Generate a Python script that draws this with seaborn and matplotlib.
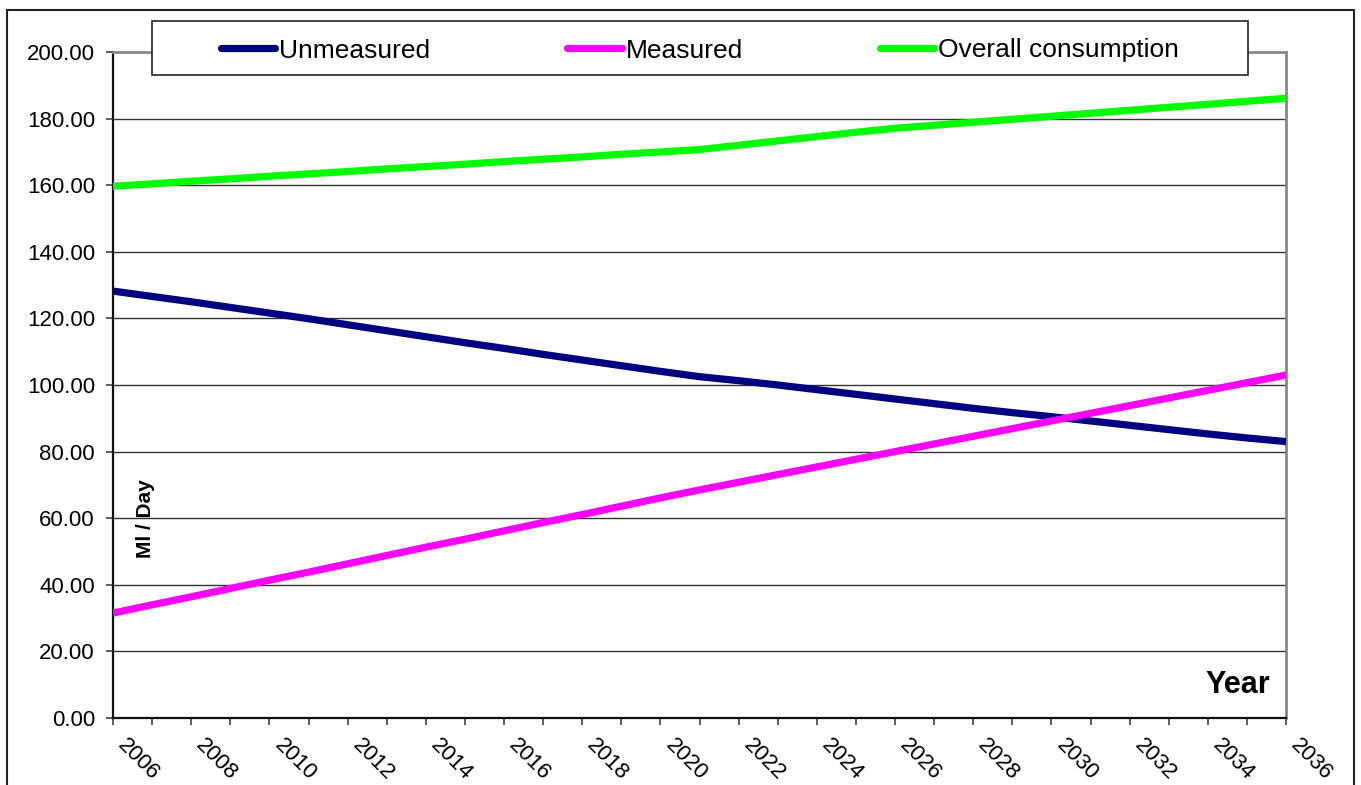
import numpy as np
import pandas as pd
import seaborn as sns
import matplotlib.pyplot as plt
from matplotlib.lines import Line2D
from matplotlib.patches import Rectangle
from matplotlib.ticker import MultipleLocator, FormatStrFormatter
from matplotlib.transforms import ScaledTranslation

years = list(range(2006, 2037))

unmeasured = [128.2, 126.6, 125.0, 123.3, 121.6, 119.9, 118.1, 116.3, 114.5, 112.7,
              111.0, 109.2, 107.5, 105.8, 104.1, 102.5, 101.3, 100.0, 98.6, 97.2,
              95.8, 94.4, 93.0, 91.7, 90.5, 89.2, 87.9, 86.6, 85.3, 84.1, 83.0]
measured = [31.5, 34.0, 36.4, 38.9, 41.4, 43.8, 46.3, 48.8, 51.3, 53.7,
            56.2, 58.7, 61.1, 63.6, 66.1, 68.5, 70.8, 73.1, 75.4, 77.7,
            80.0, 82.3, 84.6, 86.9, 89.2, 91.5, 93.8, 96.1, 98.4, 100.7, 103.0]
overall = [159.7, 160.4, 161.2, 161.9, 162.7, 163.4, 164.1, 164.9, 165.6, 166.3,
           167.1, 167.8, 168.5, 169.3, 170.0, 170.7, 172.0, 173.3, 174.6, 175.9,
           177.1, 178.0, 178.9, 179.8, 180.7, 181.6, 182.5, 183.4, 184.3, 185.2, 186.1]

series_names = ["Unmeasured", "Measured", "Overall consumption"]
series_colors = ["#000080", "#FF00FF", "#00FF00"]

df = pd.DataFrame({
    "Year": years,
    "Unmeasured": unmeasured,
    "Measured": measured,
    "Overall consumption": overall,
})
long_df = df.melt(id_vars="Year", var_name="Series", value_name="Ml / Day")

sns.set_style("white")
plt.rcParams["font.family"] = ["Liberation Sans", "DejaVu Sans"]
plt.rcParams["text.color"] = "black"

fig = plt.figure(figsize=(13.61, 7.85), dpi=100)
ax = fig.add_axes([113 / 1361, 1 - 718 / 785, (1286 - 113) / 1361, (718 - 52) / 785])

sns.lineplot(data=long_df, x="Year", y="Ml / Day", hue="Series",
             hue_order=series_names, palette=series_colors,
             linewidth=5.2, legend=False, ax=ax, zorder=3)
for ln in ax.lines:
    ln.set_solid_capstyle("butt")

ax.set_xlim(2006, 2036)
ax.set_ylim(0, 200)
ax.yaxis.set_major_locator(MultipleLocator(20))
ax.yaxis.set_major_formatter(FormatStrFormatter("%.2f"))
ax.xaxis.set_major_locator(MultipleLocator(2))
ax.xaxis.set_minor_locator(MultipleLocator(1))
ax.set_xlabel("")
ax.set_ylabel("")

ax.grid(axis="y", color="#333333", linewidth=1.0, zorder=1)
ax.set_axisbelow(True)

for side in ["left", "bottom"]:
    ax.spines[side].set_color("#111111")
    ax.spines[side].set_linewidth(1.6)
for side in ["top", "right"]:
    ax.spines[side].set_color("#888888")
    ax.spines[side].set_linewidth(2.0)
    ax.spines[side].set_visible(True)

ax.tick_params(axis="y", which="major", direction="out", length=5, width=1.2,
               color="#444444", pad=8, labelsize=16, labelcolor="black", left=True)
ax.tick_params(axis="x", which="both", direction="out", length=5, width=1.2,
               color="#444444", bottom=True)
ax.tick_params(axis="x", which="major", labelsize=16, labelcolor="black", pad=12)
shift = ScaledTranslation(0.08, 0, fig.dpi_scale_trans)
for lab in ax.get_xticklabels():
    lab.set_rotation(-45)
    lab.set_ha("left")
    lab.set_va("center")
    lab.set_rotation_mode("anchor")
    lab.set_transform(lab.get_transform() + shift)

ax.text(0.9864, 0.0375, "Year", transform=ax.transAxes, ha="right",
        va="baseline", fontsize=22, fontweight="bold")
ax.text(0.0273, 0.2988, "Ml / Day", transform=ax.transAxes, ha="center",
        va="center", rotation=90, fontsize=15, fontweight="bold")

# legend box and entries
fig.patches.append(Rectangle((152 / 1361, 1 - 75 / 785), (1248 - 152) / 1361,
                             (75 - 21) / 785, transform=fig.transFigure,
                             facecolor="white", edgecolor="#222222",
                             linewidth=1.2, zorder=2))
handles = [Line2D([], [], color=c, linewidth=5.2, solid_capstyle="round")
           for c in series_colors]
fig.legend(handles, series_names, loc="center",
           bbox_to_anchor=((152 + 1248) / 2 / 1361, 1 - 50.5 / 785),
           ncol=3, frameon=False, fontsize=19, handlelength=2.05,
           handletextpad=0.15, columnspacing=5.2, borderpad=0)

# outer chart border
fig.patches.append(Rectangle((7 / 1361, -0.05), (1354 - 7) / 1361, 1 - 10 / 785 + 0.05,
                             transform=fig.transFigure, facecolor="none",
                             edgecolor="#222222", linewidth=1.5, zorder=0))

fig.savefig("out.png", dpi=100)
